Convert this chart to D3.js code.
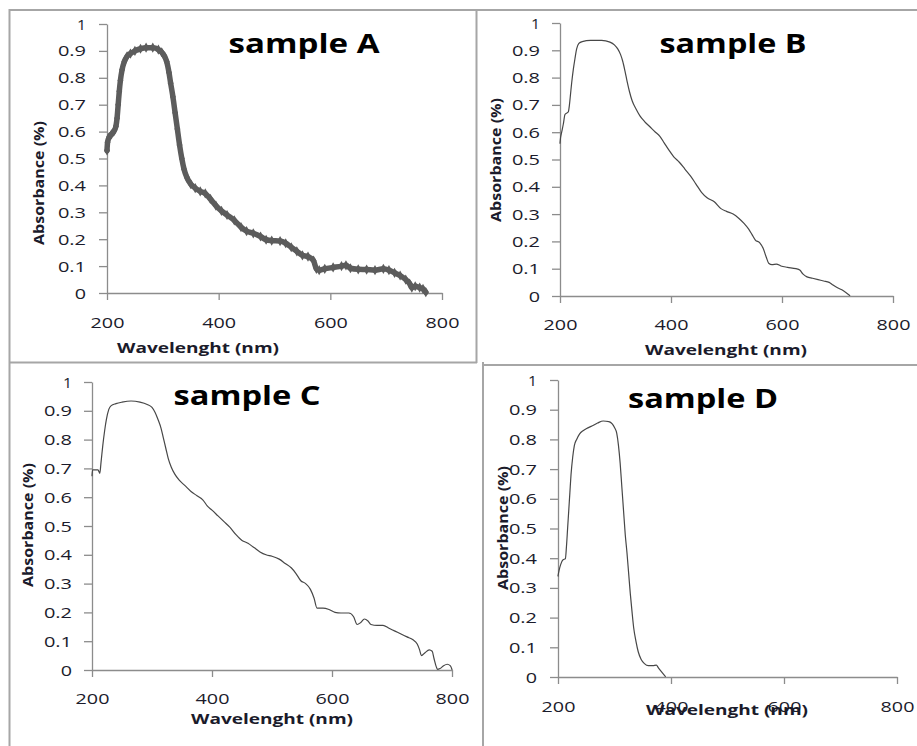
<!DOCTYPE html>
<html><head><meta charset="utf-8">
<script src="https://cdn.jsdelivr.net/npm/d3@7"></script>
<style>
html,body{margin:0;padding:0;background:#fff;}
svg{display:block;}
</style></head>
<body>
<svg id="chart" width="917" height="746"></svg>
<script>
// ---------- data ----------
const xTicks = [200, 400, 600, 800];
const yTicks = [0, 0.1, 0.2, 0.3, 0.4, 0.5, 0.6, 0.7, 0.8, 0.9, 1];
const xTitle = "Wavelenght (nm)";
const yTitle = "Absorbance (%)";

const sampleNames = ["sample A", "sample B", "sample C", "sample D"];

const aWavelength = [200,201,204,208,212,216,218,220,222,224,227,231,236,242,250,260,270,282,292,298,303,307,311,314,318,322,326,330,334,338,343,350,358,367,376,385,395,405,415,428,440,450,462,475,485,495,510,520,530,540,550,560,570,575,580,590,605,620,628,636,650,665,680,695,705,715,725,735,742,746,752,760,766,771];
const aAbsorbance = [0.53,0.56,0.58,0.59,0.60,0.62,0.65,0.70,0.75,0.79,0.83,0.86,0.88,0.89,0.90,0.908,0.912,0.912,0.905,0.895,0.88,0.86,0.82,0.78,0.73,0.67,0.61,0.55,0.50,0.46,0.43,0.405,0.39,0.378,0.37,0.35,0.325,0.305,0.29,0.27,0.245,0.23,0.222,0.21,0.198,0.195,0.193,0.185,0.17,0.155,0.14,0.135,0.12,0.09,0.085,0.09,0.095,0.10,0.103,0.092,0.088,0.087,0.085,0.09,0.085,0.075,0.065,0.05,0.035,0.02,0.025,0.02,0.015,0.003];

const bWavelength = [200,201,203,206,209,212,215,217,219,221,224,227,230,234,240,255,275,290,298,304,309,313,317,321,325,330,337,344,352,362,372,380,388,396,405,415,425,435,445,455,465,478,490,500,512,522,532,540,546,552,560,566,572,576,582,590,598,610,625,632,638,645,655,665,675,685,692,700,710,722];
const bAbsorbance = [0.56,0.58,0.60,0.63,0.665,0.67,0.675,0.70,0.74,0.78,0.83,0.87,0.905,0.925,0.932,0.936,0.936,0.93,0.92,0.905,0.885,0.86,0.825,0.785,0.75,0.715,0.685,0.66,0.64,0.62,0.60,0.585,0.56,0.535,0.51,0.49,0.465,0.44,0.41,0.38,0.36,0.345,0.32,0.31,0.30,0.285,0.265,0.245,0.225,0.205,0.195,0.175,0.14,0.12,0.115,0.117,0.11,0.105,0.10,0.095,0.08,0.07,0.065,0.06,0.055,0.05,0.04,0.03,0.02,0.002];

const cWavelength = [200,201,205,210,213,215,218,221,224,228,232,240,250,265,280,292,300,305,310,315,319,323,327,332,338,345,355,365,375,385,392,400,410,420,430,440,450,460,470,480,490,500,512,522,532,540,548,556,564,570,575,585,595,605,615,628,636,642,648,654,660,665,675,685,695,705,715,725,735,742,746,749,755,762,767,770,774,776,780,786,792,797,800];
const cAbsorbance = [0.675,0.695,0.695,0.695,0.683,0.72,0.78,0.83,0.87,0.905,0.918,0.925,0.93,0.934,0.93,0.922,0.912,0.895,0.87,0.84,0.805,0.77,0.735,0.705,0.68,0.66,0.64,0.62,0.605,0.59,0.57,0.555,0.535,0.515,0.495,0.47,0.45,0.44,0.425,0.41,0.40,0.395,0.385,0.37,0.355,0.335,0.31,0.30,0.28,0.25,0.215,0.215,0.21,0.20,0.198,0.198,0.185,0.158,0.165,0.177,0.17,0.158,0.155,0.155,0.145,0.135,0.125,0.115,0.105,0.09,0.07,0.05,0.06,0.07,0.065,0.04,0.01,0.002,0.005,0.015,0.02,0.015,0.002];

const dWavelength = [200,202,205,209,213,215,217,219,221,223,226,229,233,238,245,252,260,270,280,290,296,300,304,307,310,313,316,319,322,325,328,331,334,338,342,347,353,360,368,374,378,383,390];
const dAbsorbance = [0.34,0.36,0.38,0.395,0.398,0.44,0.50,0.56,0.62,0.68,0.74,0.78,0.80,0.818,0.83,0.838,0.845,0.855,0.862,0.86,0.852,0.84,0.82,0.78,0.72,0.64,0.56,0.48,0.42,0.35,0.28,0.22,0.165,0.12,0.085,0.06,0.045,0.038,0.038,0.04,0.03,0.018,0.002];

const seriesX = [aWavelength, bWavelength, cWavelength, dWavelength];
const seriesY = [aAbsorbance, bAbsorbance, cAbsorbance, dAbsorbance];

// ---------- layout ----------
const panels = [
  {x0:107, x1:442, y0:293, y1:24, ylabRight:86, xlabBase:328, titleX:304, titleBase:53, titleW:151,
   xtX:198, xtBase:353, ytX:39, ytY:183, thick:true},
  {x0:560, x1:893, y0:296, y1:23, ylabRight:540, xlabBase:330, titleX:733, titleBase:53, titleW:147,
   xtX:726, xtBase:355, ytX:496, ytY:160, thick:false},
  {x0:92, x1:452, y0:670, y1:382, ylabRight:72, xlabBase:704, titleX:247, titleBase:405, titleW:147,
   xtX:272, xtBase:724, ytX:28, ytY:525, thick:false},
  {x0:558, x1:897, y0:677, y1:380, ylabRight:537, xlabBase:712, titleX:703, titleBase:408, titleW:150,
   xtX:727, xtBase:715, ytX:503, ytY:528, thick:false}
];

const svg = d3.select("#chart");
const FONT = "'Open Sans', Lato, sans-serif";
const axisColor = "#8c8c8c";
const textColor = "#1b1b2b";

// frame lines
const frame = svg.append("g").attr("stroke", "#a6a6a6").attr("stroke-width", 2).attr("fill", "none");
frame.append("line").attr("x1", 9).attr("x2", 917).attr("y1", 10).attr("y2", 10);
frame.append("line").attr("x1", 9.5).attr("x2", 9.5).attr("y1", 9).attr("y2", 746);
frame.append("line").attr("x1", 476.5).attr("x2", 476.5).attr("y1", 10).attr("y2", 363);
frame.append("line").attr("x1", 9).attr("x2", 477).attr("y1", 362.5).attr("y2", 362.5);
frame.append("line").attr("x1", 483).attr("x2", 483).attr("y1", 362).attr("y2", 746);
frame.append("line").attr("x1", 482).attr("x2", 917).attr("y1", 365).attr("y2", 365);

function charW(s){
  let w = 0;
  for (const c of s) w += (c === ".") ? 5.5 : (c === "1" && s.length === 1 ? 9 : 11.3);
  return w;
}

panels.forEach((p, i) => {
  const x = d3.scaleLinear().domain([200, 800]).range([p.x0, p.x1]);
  const y = d3.scaleLinear().domain([0, 1]).range([p.y0, p.y1]);
  const g = svg.append("g");

  // y axis
  const ya = g.append("g").attr("transform", `translate(${p.x0},0)`)
    .call(d3.axisLeft(y).tickValues(yTicks).tickSize(8).tickSizeOuter(0).tickFormat(d => String(+d.toFixed(1))));
  ya.select(".domain").attr("stroke", axisColor).attr("stroke-width", 1.3);
  ya.selectAll(".tick line").attr("stroke", axisColor).attr("stroke-width", 1.3);
  ya.selectAll(".tick text")
    .attr("x", p.ylabRight - p.x0).attr("dy", "0.36em")
    .attr("fill", textColor).attr("font-family", FONT).attr("font-size", 14)
    .attr("text-anchor", "end")
    .attr("textLength", function(){ return charW(this.textContent); })
    .attr("lengthAdjust", "spacingAndGlyphs");

  // x axis
  const xa = g.append("g").attr("transform", `translate(0,${p.y0})`)
    .call(d3.axisBottom(x).tickValues(xTicks).tickSize(7).tickSizeOuter(0).tickFormat(d3.format("d")));
  xa.select(".domain").attr("stroke", axisColor).attr("stroke-width", 1.3);
  xa.selectAll(".tick line").attr("stroke", axisColor).attr("stroke-width", 1.3);
  xa.selectAll(".tick text")
    .attr("y", p.xlabBase - p.y0).attr("dy", 0)
    .attr("fill", textColor).attr("font-family", FONT).attr("font-size", 14)
    .attr("textLength", function(){ return charW(this.textContent); })
    .attr("lengthAdjust", "spacingAndGlyphs");

  // data line
  const pts = seriesX[i].map((wl, k) => [wl, seriesY[i][k]]);
  const line = d3.line().x(d => x(d[0])).y(d => y(d[1])).curve(d3.curveMonotoneX);
  g.append("path").datum(pts).attr("d", line)
    .attr("fill", "none")
    .attr("stroke", p.thick ? "#5c5c5c" : "#474747")
    .attr("stroke-width", p.thick ? 5.5 : 1.2)
    .attr("stroke-linejoin", "round").attr("stroke-linecap", "round");
  if (p.thick) {
    // marker texture like the original scatter markers
    g.append("g").selectAll("path").data(pts).join("path")
      .attr("transform", d => `translate(${x(d[0])},${y(d[1])})`)
      .attr("d", d3.symbol(d3.symbolDiamond, 30))
      .attr("fill", "#5c5c5c");
  }

  // title
  g.append("text").attr("x", p.titleX).attr("y", p.titleBase)
    .attr("text-anchor", "middle").attr("font-family", FONT).attr("font-weight", "bold")
    .attr("font-size", 27).attr("fill", "#000")
    .attr("textLength", p.titleW).attr("lengthAdjust", "spacingAndGlyphs")
    .text(sampleNames[i]);

  // x title
  g.append("text").attr("x", p.xtX).attr("y", p.xtBase)
    .attr("text-anchor", "middle").attr("font-family", FONT).attr("font-weight", "bold")
    .attr("font-size", 15).attr("fill", textColor)
    .attr("textLength", 162).attr("lengthAdjust", "spacingAndGlyphs")
    .text(xTitle);

  // y title
  g.append("text").attr("transform", `translate(${p.ytX + 5},${p.ytY}) rotate(-90)`)
    .attr("text-anchor", "middle").attr("font-family", FONT).attr("font-weight", "bold")
    .attr("font-size", 14).attr("fill", textColor)
    .attr("textLength", 124).attr("lengthAdjust", "spacingAndGlyphs")
    .text(yTitle);
});
</script>
</body></html>
